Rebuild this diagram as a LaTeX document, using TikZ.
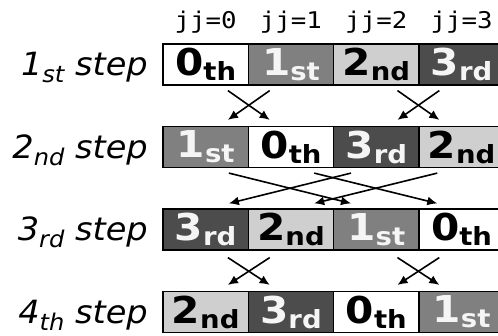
\documentclass[tikz,border=0pt]{standalone}
\usepackage{fontspec}
\usetikzlibrary{arrows.meta,calc}

% Wide-set faces for the labels and the cell contents
\newfontfamily\cellfont[FakeStretch=1.1]{DejaVu Sans}
\newfontfamily\stepfont[FakeStretch=1.05]{DejaVu Sans}
\newfontfamily\jjfont[FakeStretch=1.12]{DejaVu Sans Mono}

% ordinal inside a cell: big digit with a lowered suffix
\newcommand\ordcell[2]{{\fontsize{37}{37}\selectfont #1}\raisebox{-5pt}{\fontsize{25}{25}\selectfont #2}}
% row label on the left
\newcommand\steptext[2]{{\fontsize{32}{32}\selectfont #1}\raisebox{-7pt}{\fontsize{23}{23}\selectfont #2}{\fontsize{32}{32}\selectfont\ step}}

\definecolor{shadeA}{gray}{0.50}
\definecolor{shadeB}{gray}{0.81}
\definecolor{shadeC}{gray}{0.30}
\definecolor{inkW}{gray}{0.96}

\begin{document}
\begin{tikzpicture}[x=1pt,y=-1pt,
  cell/.style={draw=black, line width=1.2pt, minimum width=85.3pt,
    minimum height=41pt, inner sep=0pt, font=\cellfont\bfseries},
  zeroth/.style={cell, fill=white, text=black},
  first/.style={cell, fill=shadeA, text=inkW},
  second/.style={cell, fill=shadeB, text=black},
  third/.style={cell, fill=shadeC, text=inkW},
  rowlabel/.style={anchor=base east, inner sep=0pt, font=\stepfont\itshape},
  idx/.style={anchor=base, inner sep=0pt, font=\jjfont\fontsize{23}{23}\selectfont},
  arr/.style={-{Latex[length=10pt,width=9pt]}, line width=1.6pt}]

\useasboundingbox (0,0) rectangle (498,336);

% column indices
\node[idx] (j0) at (205.65,29) {jj=0};
\node[idx] (j1) at (290.95,29) {jj=1};
\node[idx] (j2) at (376.25,29) {jj=2};
\node[idx] (j3) at (461.55,29) {jj=3};

% row labels
\node[rowlabel] (l1) at (148,76)    {\steptext{1}{st}};
\node[rowlabel] (l2) at (148,158.5) {\steptext{2}{nd}};
\node[rowlabel] (l3) at (148,241)   {\steptext{3}{rd}};
\node[rowlabel] (l4) at (148,323.5) {\steptext{4}{th}};

% 1st step
\node[zeroth] (r1c0) at (205.65,64.5) {\ordcell{0}{th}};
\node[first]  (r1c1) at (290.95,64.5) {\ordcell{1}{st}};
\node[second] (r1c2) at (376.25,64.5) {\ordcell{2}{nd}};
\node[third]  (r1c3) at (461.55,64.5) {\ordcell{3}{rd}};

% 2nd step
\node[first]  (r2c0) at (205.65,147) {\ordcell{1}{st}};
\node[zeroth] (r2c1) at (290.95,147) {\ordcell{0}{th}};
\node[third]  (r2c2) at (376.25,147) {\ordcell{3}{rd}};
\node[second] (r2c3) at (461.55,147) {\ordcell{2}{nd}};

% 3rd step
\node[third]  (r3c0) at (205.65,229.5) {\ordcell{3}{rd}};
\node[second] (r3c1) at (290.95,229.5) {\ordcell{2}{nd}};
\node[first]  (r3c2) at (376.25,229.5) {\ordcell{1}{st}};
\node[zeroth] (r3c3) at (461.55,229.5) {\ordcell{0}{th}};

% 4th step
\node[second] (r4c0) at (205.65,312) {\ordcell{2}{nd}};
\node[third]  (r4c1) at (290.95,312) {\ordcell{3}{rd}};
\node[zeroth] (r4c2) at (376.25,312) {\ordcell{0}{th}};
\node[first]  (r4c3) at (461.55,312) {\ordcell{1}{st}};

% swaps of neighbours: step 1 -> 2
\draw[arr] ($(r1c0.south east)+(-21,5)$) -- ($(r2c1.north west)+(22,-6)$);
\draw[arr] ($(r1c1.south west)+(22,5)$)  -- ($(r2c0.north east)+(-21,-6)$);
\draw[arr] ($(r1c2.south east)+(-22,5)$) -- ($(r2c3.north west)+(21,-6)$);
\draw[arr] ($(r1c3.south west)+(21,5)$)  -- ($(r2c2.north east)+(-22,-6)$);

% swaps at distance two: step 2 -> 3
\draw[arr] ($(r2c0.south east)+(-20,5)$) -- ($(r3c2.north west)+(18,-5)$);
\draw[arr] ($(r2c1.south east)+(-20,5)$) -- ($(r3c3.north west)+(19,-5)$);
\draw[arr] ($(r2c2.south west)+(18,5)$)  -- ($(r3c0.north east)+(-20,-5)$);
\draw[arr] ($(r2c3.south west)+(19,5)$)  -- ($(r3c1.north east)+(-20,-5)$);

% swaps of neighbours: step 3 -> 4
\draw[arr] ($(r3c0.south east)+(-21,7)$) -- ($(r4c1.north west)+(22,-6)$);
\draw[arr] ($(r3c1.south west)+(22,7)$)  -- ($(r4c0.north east)+(-21,-6)$);
\draw[arr] ($(r3c2.south east)+(-22,7)$) -- ($(r4c3.north west)+(21,-6)$);
\draw[arr] ($(r3c3.south west)+(21,7)$)  -- ($(r4c2.north east)+(-22,-6)$);

\end{tikzpicture}
\end{document}
